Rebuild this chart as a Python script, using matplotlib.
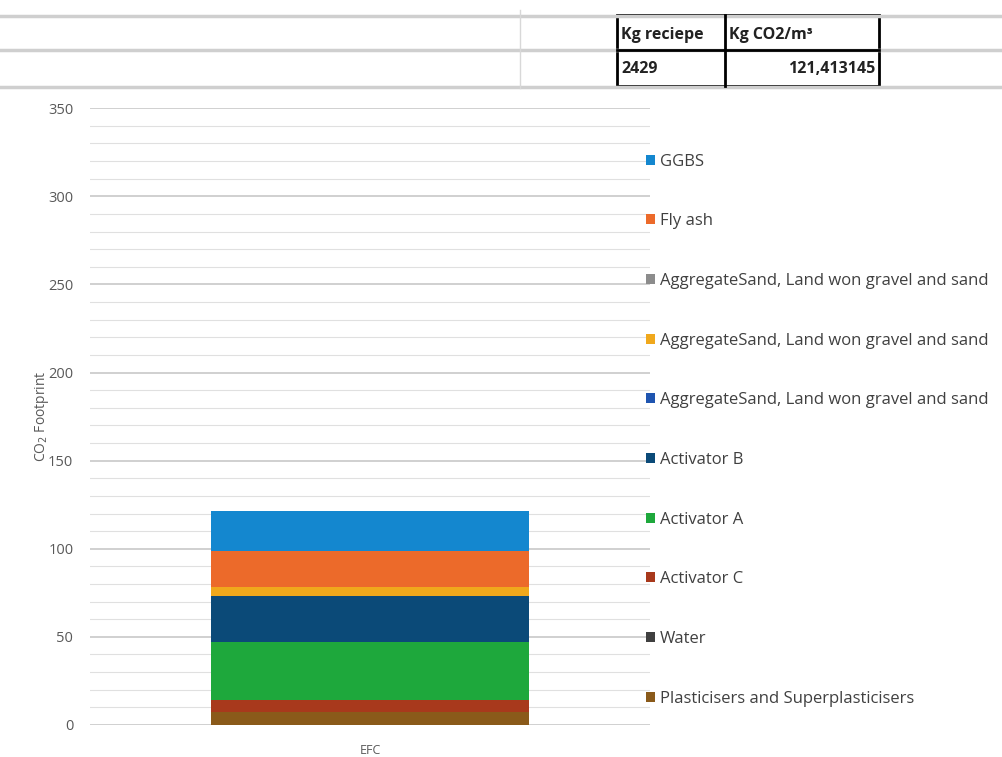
import matplotlib.pyplot as plt
from matplotlib.lines import Line2D
from matplotlib.patches import Rectangle

plt.rcParams['font.family'] = ['Open Sans', 'DejaVu Sans']

# stacking order, bottom -> top
components = ['Plasticisers and Superplasticisers', 'Water', 'Activator C', 'Activator A',
              'Activator B', 'AggregateSand, Land won gravel and sand',
              'AggregateSand, Land won gravel and sand', 'AggregateSand, Land won gravel and sand',
              'Fly ash', 'GGBS']
values = [7.2, 0.0, 7.0, 33.1, 26.1, 0.0, 4.8, 0.0, 20.3, 22.91]
colors = ['#8a5a1a', '#404040', '#a8391c', '#1ea83c', '#0b4a78', '#1f55b0',
          '#f0a81c', '#8c8c8c', '#ec6a2a', '#1487cf']
category = 'EFC'
header_labels = ['Kg reciepe', 'Kg CO2/m³']
header_values = ['2429', '121,413145']

fig = plt.figure(figsize=(10.02, 7.57), dpi=100)
ax = fig.add_axes([90 / 1002, 0.0423, 560 / 1002, 0.8147])

bottom = 0
handles = []
for name, v, c in zip(components, values, colors):
    b = ax.bar(0, v, bottom=bottom, width=0.568, color=c, label=name)
    handles.append(b)
    bottom += v

ax.set_xlim(-0.5, 0.5)
ax.set_ylim(0, 350)
ax.set_yticks(range(0, 351, 50))
ax.set_yticks(range(0, 351, 10), minor=True)
ax.set_xticks([0])
ax.set_xticklabels([category])
ax.grid(True, axis='y', which='major', color='#c8c8c8', linewidth=1.2)
ax.grid(True, axis='y', which='minor', color='#e0e0e0', linewidth=0.8)
ax.set_axisbelow(True)
for s in ax.spines.values():
    s.set_visible(False)
ax.tick_params(axis='both', which='both', length=0, colors='#595959', labelsize=10.5)
ax.tick_params(axis='y', pad=12)
ax.tick_params(axis='x', pad=14, labelsize=9)
ax.set_ylabel('CO$_2$ Footprint', color='#595959', fontsize=10, labelpad=-2)

leg = ax.legend(handles[::-1], components[::-1], loc='upper left',
                bbox_to_anchor=(0.645, 0.797), bbox_transform=fig.transFigure,
                frameon=False, fontsize=12, labelspacing=2.62,
                handlelength=0.55, handleheight=0.55, handletextpad=0.25,
                borderaxespad=0, borderpad=0)
for t in leg.get_texts():
    t.set_color('#404040')

# spreadsheet header above the chart
W, H = 1002, 757
def hline(y, x0=0, x1=W, c='#cfcfcf', lw=2.5):
    fig.add_artist(Line2D([x0 / W, x1 / W], [1 - y / H, 1 - y / H], color=c, lw=lw))

hline(16)
hline(50)
hline(87)
fig.add_artist(Line2D([520 / W, 520 / W], [1 - 10 / H, 1 - 88 / H], color='#d8d8d8', lw=1))

fig.add_artist(Rectangle((617 / W, 1 - 86 / H), 262 / W, 71 / H, fill=False,
                         edgecolor='black', lw=2))
fig.add_artist(Line2D([725 / W, 725 / W], [1 - 15 / H, 1 - 86 / H], color='black', lw=2))
hline(50, 617, 879, c='black', lw=2)

fig.text(621 / W, 1 - 35 / H, header_labels[0], fontsize=11.5, fontweight='bold',
         va='center', ha='left', color='#222222')
fig.text(729 / W, 1 - 35 / H, header_labels[1], fontsize=11.5, fontweight='bold',
         va='center', ha='left', color='#222222')
fig.text(621 / W, 1 - 69 / H, header_values[0], fontsize=11.5, fontweight='bold',
         va='center', ha='left', color='#222222')
fig.text(875 / W, 1 - 69 / H, header_values[1], fontsize=11.5, fontweight='bold',
         va='center', ha='right', color='#222222')

fig.savefig('out.png', dpi=100)
